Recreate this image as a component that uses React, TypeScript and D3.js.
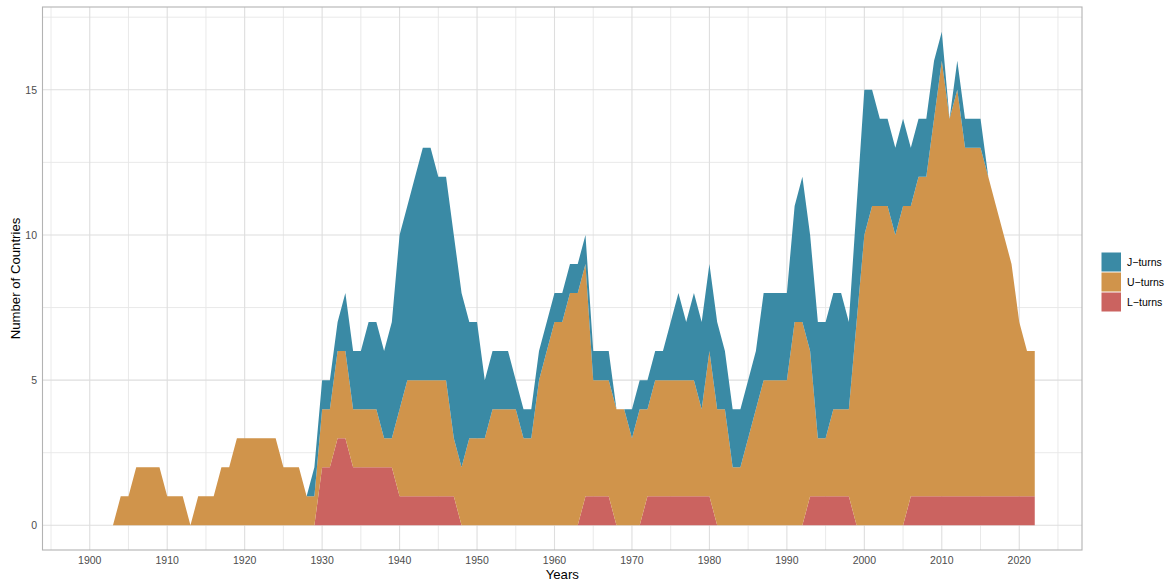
import React from "react";
import * as d3 from "d3";

const startYear = 1900;
const lTurns = [
  0,0,0,0,0,0,0,0,0,0, 0,0,0,0,0,0,0,0,0,0, 0,0,0,0,0,0,0,0,0,0,
  2,2,3,3,2,2,2,2,2,2, 1,1,1,1,1,1,1,1,0,0, 0,0,0,0,0,0,0,0,0,0,
  0,0,0,0,1,1,1,1,0,0, 0,0,1,1,1,1,1,1,1,1, 1,0,0,0,0,0,0,0,0,0,
  0,0,0,1,1,1,1,1,1,0, 0,0,0,0,0,0,1,1,1,1, 1,1,1,1,1,1,1,1,1,1,
  1,1,1
];
const uTurns = [
  0,0,0,0,1,1,2,2,2,2, 1,1,1,0,1,1,1,2,2,3, 3,3,3,3,3,2,2,2,1,1,
  2,2,3,3,2,2,2,2,1,1, 3,4,4,4,4,4,4,2,2,3, 3,3,4,4,4,4,3,3,5,6,
  7,7,8,8,8,4,4,4,4,4, 3,4,3,4,4,4,4,4,4,3, 5,4,4,2,2,3,4,5,5,5,
  5,7,7,5,2,2,3,3,3,7, 10,11,11,11,10,11,10,11,11,13, 15,13,14,12,12,12,11,10,9,8,
  6,5,5
];
const jTurns = [
  0,0,0,0,0,0,0,0,0,0, 0,0,0,0,0,0,0,0,0,0, 0,0,0,0,0,0,0,0,0,1,
  1,1,1,2,2,2,3,3,3,4, 6,6,7,8,8,7,7,7,6,4, 4,2,2,2,2,1,1,1,1,1,
  1,1,1,1,1,1,1,1,0,0, 1,1,1,1,1,2,3,2,3,3, 3,3,2,2,2,2,2,3,3,3,
  3,4,5,4,4,4,4,4,3,4, 5,4,3,3,3,3,2,2,2,2, 1,0,1,1,1,1,0,0,0,0,
  0,0,0
];
const seriesKeys = ["L", "U", "J"];
const legendLabels = ["J\u2212turns", "U\u2212turns", "L\u2212turns"];
const legendKeys = ["J", "U", "L"];
const colors: Record<string, string> = { J: "#3A8AA5", U: "#D0944B", L: "#CB6360" };
const xTicks = [1900, 1910, 1920, 1930, 1940, 1950, 1960, 1970, 1980, 1990, 2000, 2010, 2020];
const xMinor = [1895, 1905, 1915, 1925, 1935, 1945, 1955, 1965, 1975, 1985, 1995, 2005, 2015, 2025];
const yTicks = [0, 5, 10, 15];
const yMinor = [2.5, 7.5, 12.5, 17.5];

export default function App() {
  const W = 1168, H = 581;
  const left = 42.5, right = 1082, top = 7, bottom = 550;
  const years = d3.range(startYear, startYear + lTurns.length);
  const rows = years.map((y, i) => ({ year: y, L: lTurns[i], U: uTurns[i], J: jTurns[i] }));
  const x0 = d3.min(years)!, x1 = d3.max(years)!;
  const xr = x1 - x0;
  const x = d3.scaleLinear().domain([x0 - 0.05 * xr, x1 + 0.05 * xr]).range([left, right]);
  const ymax = 17;
  const y = d3.scaleLinear().domain([-0.05 * ymax, ymax * 1.05]).range([bottom, top]);
  const stack = d3.stack<any>().keys(seriesKeys);
  const stacked = stack(rows);
  const area = d3.area<any>()
    .x((d: any) => x(d.data.year))
    .y0((d: any) => y(d[0]))
    .y1((d: any) => y(d[1]));
  const font = "'Liberation Sans', Arial, Helvetica, sans-serif";
  return (
    <svg width={W} height={H} style={{ position: "absolute", left: 0, top: 0 }} fontFamily={font}>
      <rect x={0} y={0} width={W} height={H} fill="#fff" />
      <g>
        {xMinor.map((t) => (
          <line key={"xm" + t} x1={x(t)} x2={x(t)} y1={top} y2={bottom} stroke="#E6E6E6" strokeWidth={0.9} />
        ))}
        {yMinor.map((t) => (
          <line key={"ym" + t} x1={left} x2={right} y1={y(t)} y2={y(t)} stroke="#E6E6E6" strokeWidth={0.9} />
        ))}
        {xTicks.map((t) => (
          <line key={"xM" + t} x1={x(t)} x2={x(t)} y1={top} y2={bottom} stroke="#DEDEDE" strokeWidth={1.1} />
        ))}
        {yTicks.map((t) => (
          <line key={"yM" + t} x1={left} x2={right} y1={y(t)} y2={y(t)} stroke="#DEDEDE" strokeWidth={1.1} />
        ))}
      </g>
      <g>
        {stacked.map((s: any) => (
          <path key={s.key} d={area(s) || ""} fill={colors[s.key]} />
        ))}
      </g>
      <rect x={left} y={top} width={right - left} height={bottom - top} fill="none" stroke="#B3B3B3" strokeWidth={1.1} />
      <g fontSize={10.5} fill="#4D4D4D">
        {xTicks.map((t) => (
          <text key={"xl" + t} x={x(t)} y={564} textAnchor="middle">{t}</text>
        ))}
        {yTicks.map((t) => (
          <text key={"yl" + t} x={37} y={y(t) + 3.8} textAnchor="end">{t}</text>
        ))}
      </g>
      <text x={(left + right) / 2} y={579} textAnchor="middle" fontSize={13.2} fill="#000">Years</text>
      <text transform={`translate(19.5,${(top + bottom) / 2}) rotate(-90)`} textAnchor="middle" fontSize={13.2} fill="#000">Number of Countries</text>
      <g>
        {legendKeys.map((k, i) => (
          <g key={k} transform={`translate(1101.5,${252.5 + i * 20})`}>
            <rect x={0} y={0} width={19.5} height={19} fill={colors[k]} />
            <text x={25.5} y={13.8} fontSize={10.5} fill="#000">{legendLabels[i]}</text>
          </g>
        ))}
      </g>
    </svg>
  );
}
